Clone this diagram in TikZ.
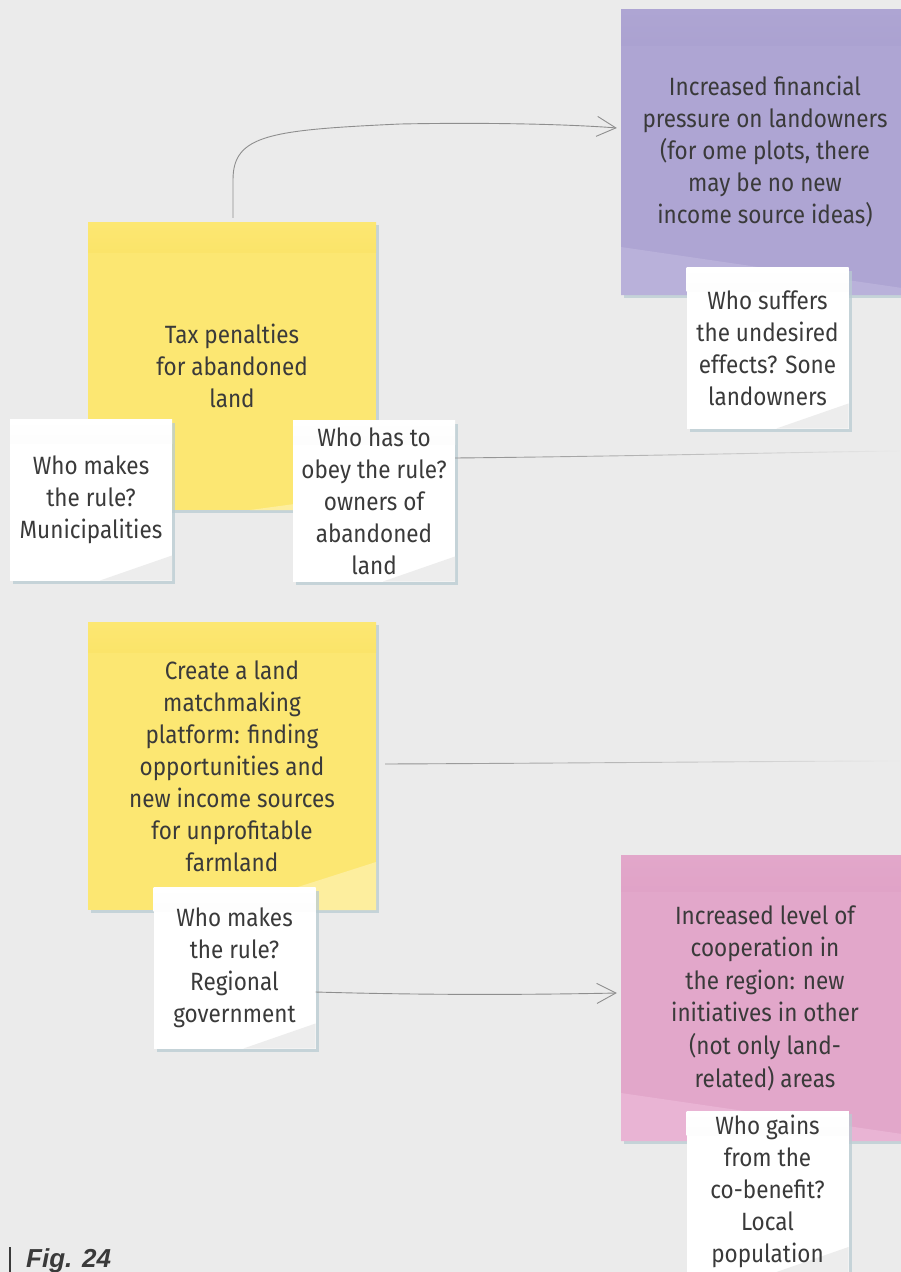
\documentclass[tikz,border=0pt]{standalone}
\usepackage{fontspec}
\newfontfamily\hand[FakeStretch=0.9]{Fira Sans}
\newfontfamily\figfont{Liberation Sans}
\usetikzlibrary{arrows.meta,shadows,fadings}
\definecolor{bg}{HTML}{EBEBEB}
\definecolor{ink}{HTML}{3A3A3A}
\definecolor{linec}{HTML}{8E8E8E}
\definecolor{yel}{HTML}{FCE772}
\definecolor{yeltop}{HTML}{F5CC22}
\definecolor{yelfold}{HTML}{FDEE9E}
\definecolor{pur}{HTML}{AEA5D3}
\definecolor{purtop}{HTML}{968BC0}
\definecolor{purfold}{HTML}{B9B1DA}
\definecolor{pnk}{HTML}{E2A7CA}
\definecolor{pnktop}{HTML}{D486B5}
\definecolor{pnkfold}{HTML}{E9B4D4}
\definecolor{whtop}{HTML}{EFEFEF}
\definecolor{whfold}{HTML}{EDEDED}
\definecolor{shad}{HTML}{B9CCD2}
\definecolor{figc}{HTML}{3A3A3A}
\tikzfading[name=fadeR, left color=transparent!0, middle color=transparent!0, right color=transparent!100]
\tikzset{
  note/.style={align=center, text=ink, inner sep=0pt,
    font=\hand\fontsize{25}{32}\selectfont,
    drop shadow={shadow xshift=3pt, shadow yshift=-3pt, fill=shad, opacity=0.75}},
  yellownote/.style 2 args={note, fill=yel, minimum width=288pt, minimum height=288pt,
    path picture={
      \fill[top color=yel, bottom color=yeltop] (path picture bounding box.north west) rectangle ([yshift=-30pt]path picture bounding box.north east);
      \fill[yelfold] ([xshift=-#1]path picture bounding box.south east) -- (path picture bounding box.south east) -- ([yshift=#2]path picture bounding box.south east) -- cycle;}},
  colnote/.style n args={3}{note, fill=#1, minimum width=288pt, minimum height=286pt,
    path picture={
      \fill[top color=#1, bottom color=#2] (path picture bounding box.north west) rectangle ([yshift=-36pt]path picture bounding box.north east);
      \fill[#3] ([yshift=48pt]path picture bounding box.south west) -- ([yshift=6pt]path picture bounding box.south east) -- (path picture bounding box.south east) -- (path picture bounding box.south west) -- cycle;}},
  whitenote/.style={note, fill=white, minimum width=162pt, minimum height=161pt,
    path picture={
      \fill[top color=white, bottom color=whtop] (path picture bounding box.north west) rectangle ([yshift=-24pt]path picture bounding box.north east);
      \fill[whfold] ([xshift=-72pt]path picture bounding box.south east) -- (path picture bounding box.south east) -- ([yshift=25pt]path picture bounding box.south east) -- cycle;}},
  conn/.style={draw=linec, line width=0.9pt},
  tip/.style={-{Straight Barb[length=19pt,width=20pt,line width=0.9pt]}},
}
\begin{document}
\begin{tikzpicture}[x=1pt,y=-1pt]
\fill[bg] (0,0) rectangle (901,1272);
\useasboundingbox (0,0) rectangle (901,1272);

% big notes
\node[yellownote={126pt}{17pt}] (tax) at (232,366) {Tax penalties\\for abandoned\\land};
\node[yellownote={150pt}{48pt}] (plat) at (232,766) {Create a land\\matchmaking\\platform: finding\\opportunities and\\new income sources\\for unprofitable\\farmland};
\node[colnote={pur}{purtop}{purfold}] (press) at (765,152) {Increased financial\\pressure on landowners\\(for ome plots, there\\may be no new\\income source ideas)};
\node[colnote={pnk}{pnktop}{pnkfold}, font=\hand\fontsize{25}{32.6}\selectfont] (coop) at (765,998) {Increased level of\\cooperation in\\the region: new\\initiatives in other\\(not only land-\\related) areas};

% white notes
\node[whitenote] (muni) at (91,500) {Who makes\\the rule?\\Municipalities};
\node[whitenote] (own) at (374,501) {Who has to\\obey the rule?\\owners of\\abandoned\\land};
\node[whitenote] (suff) at (767.5,348) {Who suffers\\the undesired\\effects? Sone\\landowners};
\node[whitenote] (reg) at (234.5,968) {Who makes\\the rule?\\Regional\\government};
\node[whitenote] (gain) at (767.5,1191.5) {Who gains\\from the\\co-benefit?\\Local\\population};

% connectors
\coordinate (endA) at (901,451);
\coordinate (endB) at (901,761);
\draw[conn,tip] ([xshift=1pt,yshift=4pt]tax.north) -- ++(0,-38)
  .. controls +(0,-45) and (270,130) .. (400,124)
  .. controls (500,122) and (580,125) .. ([xshift=-4pt,yshift=24pt]press.west);
\draw[conn, path fading=fadeR] ([yshift=43pt]own.east) .. controls (650,456) and (800,452) .. (endA);
\draw[conn, path fading=fadeR] ([xshift=9pt,yshift=2pt]plat.east) .. controls (600,763) and (800,761) .. (endB);
\draw[conn,tip] ([yshift=-24pt]reg.east) .. controls (420,995) and (520,995) .. ([xshift=-4pt,yshift=5pt]coop.west);

% figure label
\node[anchor=base west, inner sep=0pt, text=figc,
  font=\figfont\bfseries\itshape\fontsize{26}{30}\selectfont] (fig) at (26,1267) {Fig. 24};
\draw[figc, line width=2.2pt] (10,1247) -- (10,1272);
\end{tikzpicture}
\end{document}
